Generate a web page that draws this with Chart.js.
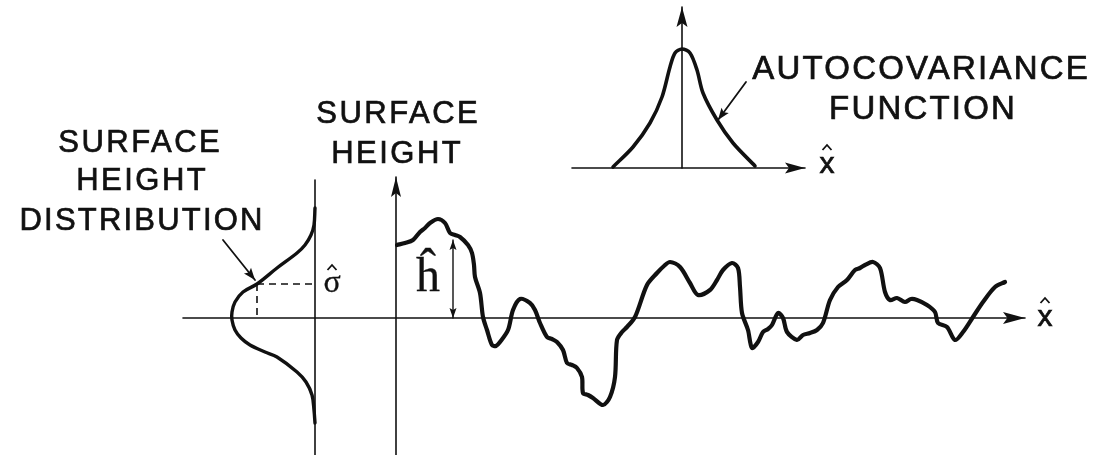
<!DOCTYPE html>
<html>
<head>
<meta charset="utf-8">
<script src="https://cdn.jsdelivr.net/npm/chart.js@4.4.1/dist/chart.umd.min.js"></script>
<style>
  body { margin: 0; background: #fff; }
  #wrap { width: 1100px; height: 455px; }
</style>
</head>
<body>
<div id="wrap"><canvas id="myChart"></canvas></div>
<script>
// surface profile: distance along x (from the height axis) and height above the mean line
var profileX = [1, 9, 17, 24, 29, 34, 42, 49, 54, 59, 64, 72, 76, 78, 79, 84, 87, 91, 96, 100,
  104, 112, 117, 124, 134, 139, 144, 151, 156, 161, 167, 171, 176, 181, 186, 187, 192, 197, 207, 214,
  219, 221, 226, 231, 239, 251, 261, 268, 274, 284, 294, 302, 314, 321, 327, 336, 342, 344, 346, 352,
  356, 362, 367, 372, 376, 382, 387, 391, 401, 407, 414, 421, 427, 434, 442, 451, 459, 464, 469, 477,
  484, 489, 494, 501, 509, 515, 521, 531, 539, 542, 551, 559, 567, 577, 587, 599, 609];
var profileH = [73, 75, 78, 86, 90, 95, 99, 95, 85, 83, 81, 73, 65, 53, 41, 25, 1, -12, -27, -28,
  -24, -12, 8, 19, 15, 8, -5, -19, -21, -24, -32, -45, -47, -50, -59, -75, -77, -80, -87, -79,
  -59, -22, -14, -9, 1, 33, 45, 52, 56, 51, 35, 23, 28, 38, 48, 55, 50, 31, 5, -12,
  -30, -24, -14, -11, -7, 5, 0, -14, -22, -17, -15, -12, -5, 18, 31, 38, 48, 50, 53, 56,
  50, 26, 18, 20, 16, 19, 18, 13, 6, -5, -9, -22, -14, 1, 16, 31, 36];

// height distribution: density (drawn leftwards) against height
var distDensity = [0, 1, 4, 10, 18, 38, 58, 72, 80, 83, 83, 80, 74, 65, 50, 38, 18, 9, 3, 1, 0];
var distH = [110, 93, 83, 73, 65, 50, 34, 26, 16, 6, -2, -12, -20, -27, -34, -39, -54, -64, -77, -92, -105];
var sigmaDensity = 58;
var sigmaH = 34;
var hHat = 78;
var hHatX = 57;

// autocovariance function: lag against value
var acfLag = [-69, -49, -32, -20, -12, -7, 0, 8, 15, 21, 35, 51, 73];
var acfValue = [1, 21, 45, 71, 101, 115, 119, 115, 98, 75, 48, 25, 2];

function pts(xs, ys) {
  return xs.map(function (x, i) { return { x: x, y: ys[i] }; });
}

var ink = "#111";
function line(data, xId, yId, width, extra) {
  var d = {
    data: data, xAxisID: xId, yAxisID: yId, showLine: true,
    borderColor: ink, borderWidth: width, pointRadius: 0, tension: 0,
    borderCapStyle: "round", borderJoinStyle: "round", fill: false
  };
  for (var k in extra) d[k] = extra[k];
  return d;
}

var datasets = [
  // profile axes
  line([{ x: -213, y: 0 }, { x: 629, y: 0 }], "xP", "yP", 1.6, { arrow: "end", arrowLen: 22, arrowW: 6 }),
  line([{ x: 0, y: -137 }, { x: 0, y: 141 }], "xP", "yP", 1.6, { arrow: "end", arrowLen: 20, arrowW: 5 }),
  // distribution axis
  line([{ x: 0, y: -137 }, { x: 0, y: 138 }], "xD", "yP", 1.6, {}),
  // sigma dashes
  line([{ x: sigmaDensity, y: sigmaH }, { x: 0, y: sigmaH }], "xD", "yP", 1.6, { borderDash: [7, 5], borderCapStyle: "butt" }),
  line([{ x: sigmaDensity, y: sigmaH }, { x: sigmaDensity, y: 0 }], "xD", "yP", 1.6, { borderDash: [7, 5], borderCapStyle: "butt" }),
  // h hat double arrow
  line([{ x: hHatX, y: 0 }, { x: hHatX, y: hHat }], "xP", "yP", 1.4, { arrow: "both", arrowLen: 10, arrowW: 3.5 }),
  // leader arrows
  line([{ x: 92, y: 78 }, { x: 60, y: 38 }], "xD", "yP", 1.8, { arrow: "end", arrowLen: 12, arrowW: 4.5 }),
  line([{ x: 64, y: 86 }, { x: 36, y: 48 }], "xA", "yA", 1.8, { arrow: "end", arrowLen: 12, arrowW: 4.5 }),
  // autocovariance axes
  line([{ x: -110, y: 0 }, { x: 123, y: 0 }], "xA", "yA", 1.6, { arrow: "end", arrowLen: 20, arrowW: 5.5 }),
  line([{ x: 0, y: 0 }, { x: 0, y: 161 }], "xA", "yA", 1.6, { arrow: "end", arrowLen: 20, arrowW: 5.5 }),
  // curves
  line(pts(distDensity, distH), "xD", "yP", 3.4, { tension: 0.35 }),
  line(pts(acfLag, acfValue), "xA", "yA", 3.6, { tension: 0.3 }),
  line(pts(profileX, profileH), "xP", "yP", 4.2, { tension: 0.3 })
];

// labels placed in the surface-profile frame
var labels = [
  { text: "SURFACE", x: -257, y: 175, size: 31, sp: 2.5 },
  { text: "HEIGHT", x: -255, y: 137, size: 31, sp: 2.5 },
  { text: "DISTRIBUTION", x: -255, y: 97, size: 31, sp: 2.2 },
  { text: "SURFACE", x: 1, y: 204, size: 31, sp: 2.5 },
  { text: "HEIGHT", x: 0, y: 164, size: 31, sp: 2.5 },
  { text: "AUTOCOVARIANCE", x: 524, y: 248, size: 33, sp: 2.2 },
  { text: "FUNCTION", x: 526, y: 208, size: 33, sp: 2.2 },
  { text: "x", x: 649, y: 0, size: 30, sp: 0, hat: 16 },
  { text: "x", x: 431, y: 153, size: 30, sp: 0, hat: 16 },
  { text: "\u0125", x: 32, y: 40, size: 48, sp: 0, serif: true },
  { text: "\u03C3", x: -64, y: 34, size: 32, sp: 0, serif: true, hat: 15 }
];

var arrowPlugin = {
  id: "arrows",
  afterDatasetsDraw: function (chart) {
    var ctx = chart.ctx;
    chart.data.datasets.forEach(function (ds, i) {
      if (!ds.arrow) return;
      var pe = chart.getDatasetMeta(i).data;
      var heads = [[pe[pe.length - 2], pe[pe.length - 1]]];
      if (ds.arrow === "both") heads.push([pe[1], pe[0]]);
      heads.forEach(function (h) {
        var a = h[0], b = h[1];
        var ang = Math.atan2(b.y - a.y, b.x - a.x);
        ctx.save();
        ctx.translate(b.x, b.y);
        ctx.rotate(ang);
        ctx.fillStyle = ink;
        ctx.beginPath();
        ctx.moveTo(0, 0);
        ctx.lineTo(-ds.arrowLen, -ds.arrowW);
        ctx.lineTo(-ds.arrowLen * 0.8, 0);
        ctx.lineTo(-ds.arrowLen, ds.arrowW);
        ctx.closePath();
        ctx.fill();
        ctx.restore();
      });
    });
  }
};

var textPlugin = {
  id: "texts",
  afterDraw: function (chart) {
    var ctx = chart.ctx;
    var sx = chart.scales.xP, sy = chart.scales.yP;
    labels.forEach(function (l) {
      var px = sx.getPixelForValue(l.x), py = sy.getPixelForValue(l.y);
      ctx.save();
      ctx.fillStyle = ink;
      ctx.strokeStyle = ink;
      ctx.lineWidth = l.serif ? 0.3 : 0.7;
      ctx.font = l.size + "px " + (l.serif ? "'Liberation Serif', serif" : "'Liberation Sans', Arial, sans-serif");
      ctx.letterSpacing = l.sp + "px";
      ctx.textAlign = "center";
      ctx.textBaseline = "middle";
      ctx.fillText(l.text, px + l.sp / 2, py);
      ctx.strokeText(l.text, px + l.sp / 2, py);
      if (l.hat) {
        // circumflex drawn above the letter
        ctx.lineWidth = 1.8;
        ctx.beginPath();
        ctx.moveTo(px - 4.5, py - l.hat + 1);
        ctx.lineTo(px, py - l.hat - 4);
        ctx.lineTo(px + 4.5, py - l.hat + 1);
        ctx.stroke();
      }
      ctx.restore();
    });
  }
};

new Chart("myChart", {
  type: "scatter",
  data: { datasets: datasets },
  options: {
    responsive: true,
    maintainAspectRatio: false,
    animation: false,
    events: [],
    layout: { padding: 0 },
    plugins: { legend: { display: false }, tooltip: { enabled: false } },
    scales: {
      xP: { type: "linear", axis: "x", display: false, min: -396, max: 704 },
      yP: { type: "linear", axis: "y", display: false, min: -137, max: 318 },
      xD: { type: "linear", axis: "x", display: false, reverse: true, min: -785, max: 315 },
      xA: { type: "linear", axis: "x", display: false, min: -682, max: 418 },
      yA: { type: "linear", axis: "y", display: false, min: -287, max: 168 }
    }
  },
  plugins: [arrowPlugin, textPlugin]
});
</script>
</body>
</html>
